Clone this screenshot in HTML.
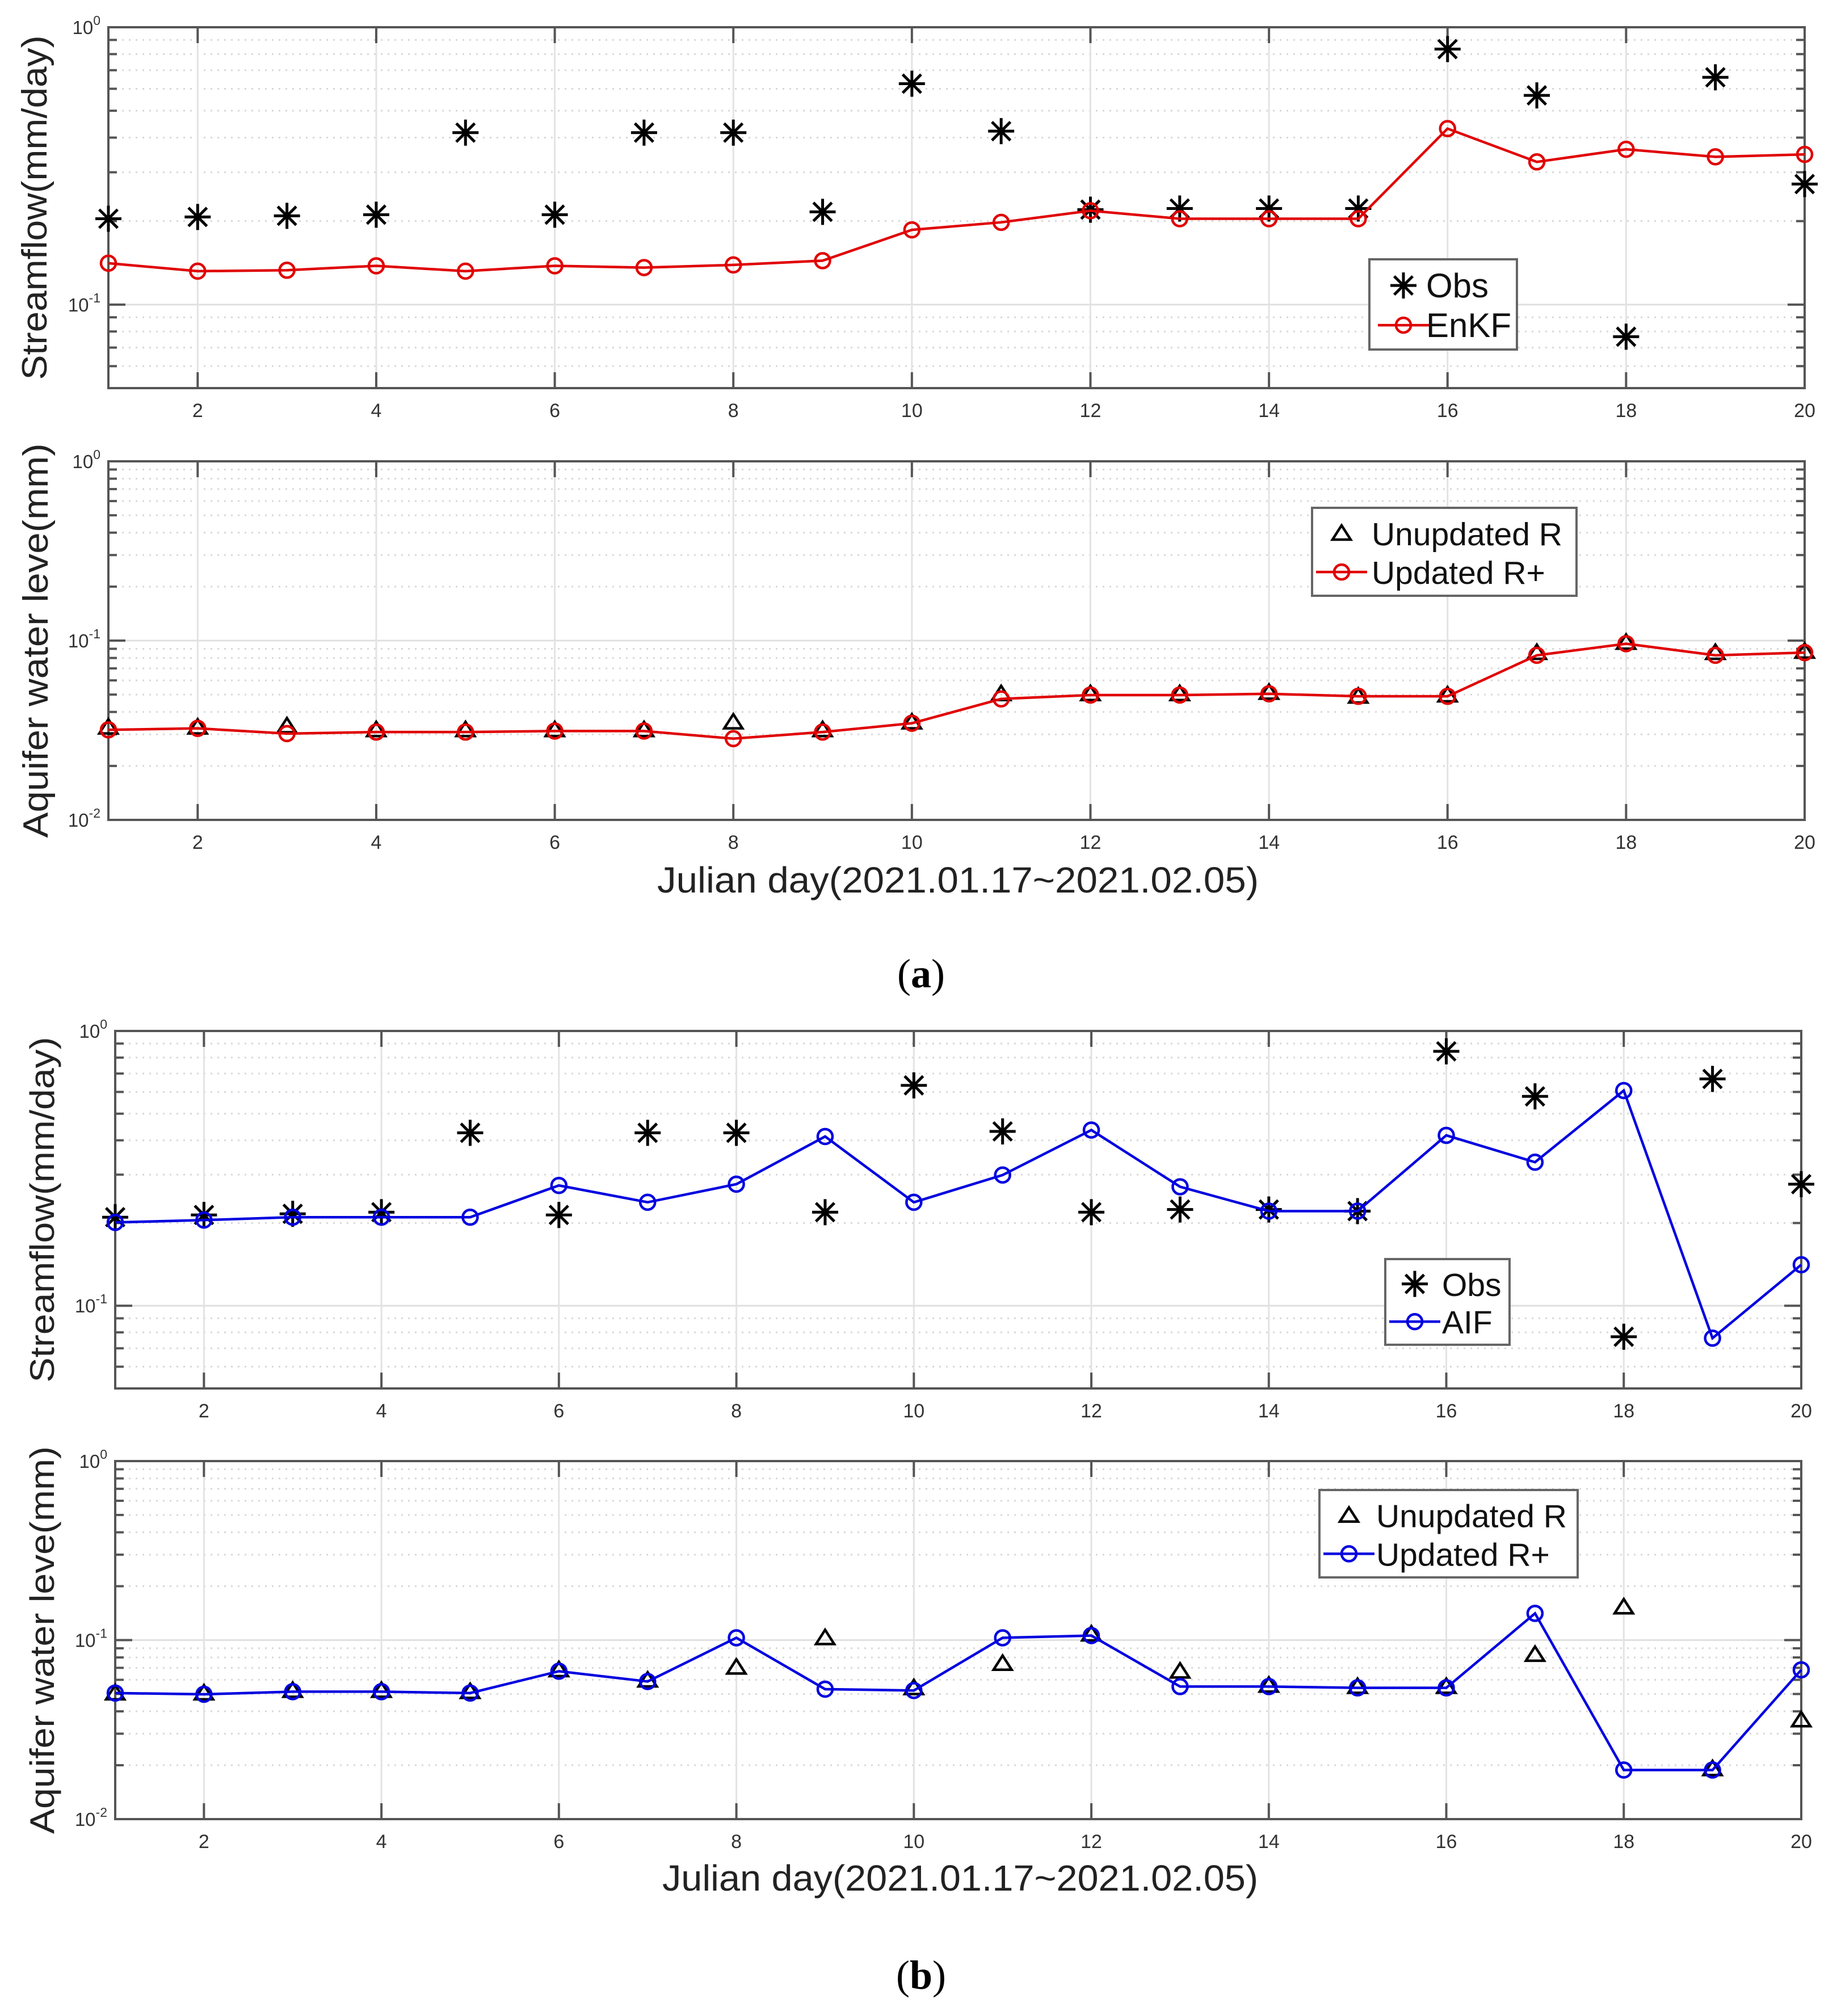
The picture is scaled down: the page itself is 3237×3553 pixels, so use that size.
<!DOCTYPE html>
<html><head><meta charset="utf-8"><style>
html,body{margin:0;padding:0;background:#fff;}
svg{display:block;}
text{font-family:"Liberation Sans",sans-serif;}
</style></head><body>
<svg id="fig" width="3237" height="3553" viewBox="0 0 3237 3553" xmlns="http://www.w3.org/2000/svg">
<rect width="3237" height="3553" fill="#fff"/>
</svg>
<script>
const days=[1,2,3,4,5,6,7,8,9,10,11,12,13,14,15,16,17,18,19,20];
const xTicks=[2,4,6,8,10,12,14,16,18,20];
// Panel a1: streamflow
const obsA=[0.204,0.207,0.209,0.211,0.417,0.211,0.417,0.417,0.216,0.626,0.422,0.220,0.222,0.222,0.222,0.834,0.568,0.0766,0.660,0.272];
const enkf=[0.141,0.132,0.133,0.138,0.132,0.138,0.136,0.139,0.144,0.186,0.198,0.218,0.204,0.204,0.204,0.431,0.327,0.363,0.341,0.348];
// Panel a2: aquifer
const rA=[0.0329,0.0329,0.0334,0.0318,0.0318,0.0318,0.0318,0.0351,0.0318,0.0351,0.0505,0.0505,0.0505,0.0514,0.0489,0.0497,0.0857,0.0977,0.0857,0.0871];
const rPlusA=[0.0318,0.0324,0.0303,0.0309,0.0309,0.0313,0.0313,0.0284,0.0309,0.0346,0.0473,0.0497,0.0497,0.0505,0.0489,0.0489,0.0828,0.0961,0.0828,0.0857];
// Panel b1: streamflow
const obsB=[0.210,0.214,0.216,0.219,0.426,0.214,0.426,0.426,0.219,0.634,0.431,0.219,0.224,0.224,0.221,0.843,0.578,0.0771,0.669,0.277];
const aif=[0.201,0.205,0.210,0.210,0.210,0.274,0.238,0.277,0.413,0.238,0.299,0.436,0.271,0.221,0.221,0.417,0.333,0.607,0.0762,0.141];
// Panel b2: aquifer
const rB=[0.0506,0.0506,0.0523,0.0523,0.0515,0.0682,0.0597,0.0705,0.103,0.0541,0.0740,0.108,0.0670,0.0559,0.0550,0.0550,0.0831,0.153,0.0191,0.0358];
const rPlusB=[0.0506,0.0498,0.0515,0.0515,0.0506,0.0670,0.0587,0.103,0.0532,0.0523,0.103,0.106,0.0550,0.0550,0.0541,0.0541,0.141,0.0188,0.0188,0.0682];

const NS="http://www.w3.org/2000/svg";
const svg=document.getElementById('fig');
function mk(tag,attrs,parent){const e=document.createElementNS(NS,tag);for(const k in attrs)e.setAttribute(k,attrs[k]);(parent||svg).appendChild(e);return e;}

function panel(cfg){
  const g=mk('g',{});
  
  
  const L=cfg.l,R=cfg.r,T=cfg.t,B=cfg.b;
  const lmin=Math.log10(cfg.ymin),lmax=Math.log10(cfg.ymax);
  const X=d=>L+(d-1)/19*(R-L);
  const Y=v=>B-(Math.log10(v)-lmin)/(lmax-lmin)*(B-T);
  const grid=mk('g',{},g);
  
  
  for(let e=Math.floor(lmin);e<Math.ceil(lmax);e++){
    for(let m=1;m<=9;m++){
      const v=m*Math.pow(10,e); if(v<cfg.ymin*0.999||v>cfg.ymax*1.001) continue;
      const y=Y(v);
      if(m===1){ mk('line',{x1:L,x2:R,y1:y,y2:y,stroke:'#e0e0e0','stroke-width':3},grid);}
      else mk('line',{x1:L,x2:R,y1:y,y2:y,stroke:'#d8d8d8','stroke-width':3,'stroke-dasharray':'3 9'},grid);
    }
  }
  xTicks.forEach(d=>{mk('line',{x1:X(d),x2:X(d),y1:T,y2:B,stroke:'#e3e3e3','stroke-width':3},grid);});
  const box=mk('rect',{x:L,y:T,width:R-L,height:B-T,fill:'none',stroke:'#555','stroke-width':4},g);
  
  
  for(let e=Math.floor(lmin);e<=Math.ceil(lmax);e++){
    for(let m=1;m<=9;m++){
      const v=m*Math.pow(10,e); if(v<cfg.ymin*0.999||v>cfg.ymax*1.001) continue;
      const y=Y(v); const len=m===1?30:15;
      mk('line',{x1:L,x2:L+len,y1:y,y2:y,stroke:'#555','stroke-width':4},g);
      mk('line',{x1:R,x2:R-len,y1:y,y2:y,stroke:'#555','stroke-width':4},g);
      if(m===1){
        const t=mk('text',{x:L-14,y:y+12,'text-anchor':'end','font-size':33,fill:'#333'},g);
        
        
        t.appendChild(document.createTextNode('10'));
        const sp=mk('tspan',{'font-size':23,dy:-16},t); sp.textContent=String(e);
      }
    }
  }
  xTicks.forEach(d=>{
    mk('line',{x1:X(d),x2:X(d),y1:B,y2:B-28,stroke:'#555','stroke-width':4},g);
    mk('line',{x1:X(d),x2:X(d),y1:T,y2:T+28,stroke:'#555','stroke-width':4},g);
    const t=mk('text',{x:X(d),y:B+51,'text-anchor':'middle','font-size':34,fill:'#333'},g);
    
    
    t.textContent=d;
  });
  const yl=mk('text',{x:0,y:0,'text-anchor':'middle','font-size':cfg.ylfs,fill:'#222',transform:`translate(${cfg.ylx},${(T+B)/2}) rotate(-90)`},g);
  
  
  yl.textContent=cfg.ylabel;
  if(cfg.yllen){ yl.setAttribute('textLength',cfg.yllen); yl.setAttribute('lengthAdjust','spacingAndGlyphs'); }
  cfg.series.forEach(s=>{
    const sg=mk('g',{},g);
    
    
    if(s.line){
      const pts=days.map((d,i)=>X(d)+','+Y(s.vals[i])).join(' ');
      mk('polyline',{points:pts,fill:'none',stroke:s.color,'stroke-width':4.5},sg);
    }
    days.forEach((d,i)=>drawMarker(sg,s.marker,X(d),Y(s.vals[i]),s.color));
  });
  const lg=mk('g',{},g);
  
  
  const lb=cfg.legend;
  mk('rect',{x:lb.x,y:lb.y,width:lb.w,height:lb.h,fill:'#fff',stroke:'#666','stroke-width':4},lg);
  lb.items.forEach((it,k)=>{
    const cy=lb.y+lb.h*(k===0?0.29:0.73);
    const eg=mk('g',{},lg);
    
    
    const mx=lb.x+lb.mx;
    if(it.line) mk('line',{x1:mx-45,x2:mx+45,y1:cy,y2:cy,stroke:it.color,'stroke-width':4.5},eg);
    drawMarker(eg,it.marker,mx,cy,it.color);
    const t=mk('text',{x:lb.x+lb.tx,y:cy+21,'font-size':lb.fs,fill:'#111'},eg);
    t.textContent=it.label;
  });
}
function drawMarker(g,type,x,y,c){
  if(type==='circle') mk('circle',{cx:x,cy:y,r:13,fill:'none',stroke:c,'stroke-width':4.5},g);
  else if(type==='star'){
    const r=23;
    for(let a=0;a<180;a+=45){const rad=a*Math.PI/180;
      mk('line',{x1:x-r*Math.cos(rad),y1:y-r*Math.sin(rad),x2:x+r*Math.cos(rad),y2:y+r*Math.sin(rad),stroke:c,'stroke-width':5},g);}
  } else if(type==='tri'){
    mk('polygon',{points:`${x},${y-14} ${x-16},${y+11} ${x+16},${y+11}`,fill:'none',stroke:c,'stroke-width':4.5},g);
  }
}
panel({name:'panel-a-streamflow',l:191,r:3180,t:48,b:684,ymin:0.05,ymax:1,ylabel:'Streamflow(mm/day)',ylx:82,ylfs:62,yllen:607,
 series:[{name:'obs-series',vals:obsA,marker:'star',color:'#000',line:false},{name:'enkf-series',vals:enkf,marker:'circle',color:'#e00000',line:true}],
 legend:{x:2413,y:457,w:260,h:159,mx:60,tx:100,fs:60,items:[{label:'Obs',marker:'star',color:'#000'},{label:'EnKF',marker:'circle',color:'#e00000',line:true}]}});
panel({name:'panel-a-aquifer',l:191,r:3180,t:813,b:1445,ymin:0.01,ymax:1,ylabel:'Aquifer water leve(mm)',ylx:84,ylfs:62,yllen:695,
 series:[{name:'unupdated-r-series',vals:rA,marker:'tri',color:'#000',line:false},{name:'updated-r-plus-series',vals:rPlusA,marker:'circle',color:'#e00000',line:true}],
 legend:{x:2312,y:895,w:466,h:155,mx:52,tx:105,fs:57,items:[{label:'Unupdated R',marker:'tri',color:'#000'},{label:'Updated R+',marker:'circle',color:'#e00000',line:true}]}});
panel({name:'panel-b-streamflow',l:203,r:3174,t:1817,b:2447,ymin:0.05,ymax:1,ylabel:'Streamflow(mm/day)',ylx:95,ylfs:60,yllen:609,
 series:[{name:'obs-series',vals:obsB,marker:'star',color:'#000',line:false},{name:'aif-series',vals:aif,marker:'circle',color:'#0000e0',line:true}],
 legend:{x:2441,y:2219,w:219,h:151,mx:52,tx:100,fs:57,items:[{label:'Obs',marker:'star',color:'#000'},{label:'AIF',marker:'circle',color:'#0000e0',line:true}]}});
panel({name:'panel-b-aquifer',l:203,r:3174,t:2575,b:3206,ymin:0.01,ymax:1,ylabel:'Aquifer water leve(mm)',ylx:95,ylfs:60,yllen:683,
 series:[{name:'unupdated-r-series',vals:rB,marker:'tri',color:'#000',line:false},{name:'updated-r-plus-series',vals:rPlusB,marker:'circle',color:'#0000e0',line:true}],
 legend:{x:2325,y:2626,w:455,h:154,mx:52,tx:100,fs:57,items:[{label:'Unupdated R',marker:'tri',color:'#000'},{label:'Updated R+',marker:'circle',color:'#0000e0',line:true}]}});

function txt(name,attrs,s){const t=mk('text',attrs);t.textContent=s;return t;}
txt('x-axis-title-a',{x:1158,y:1573,'font-size':64,fill:'#222',textLength:1060,lengthAdjust:'spacingAndGlyphs'},'Julian day(2021.01.17~2021.02.05)');
txt('x-axis-title-b',{x:1167,y:3332,'font-size':64,fill:'#222',textLength:1050,lengthAdjust:'spacingAndGlyphs'},'Julian day(2021.01.17~2021.02.05)');
const pa=mk('text',{x:1623,y:1740,'text-anchor':'middle','font-size':72,fill:'#000',style:'font-family:"Liberation Serif",serif'});


pa.innerHTML='(<tspan font-weight="bold">a</tspan>)';
const pb=mk('text',{x:1623,y:3505,'text-anchor':'middle','font-size':72,fill:'#000',style:'font-family:"Liberation Serif",serif'});


pb.innerHTML='(<tspan font-weight="bold">b</tspan>)';
</script>
</body></html>
